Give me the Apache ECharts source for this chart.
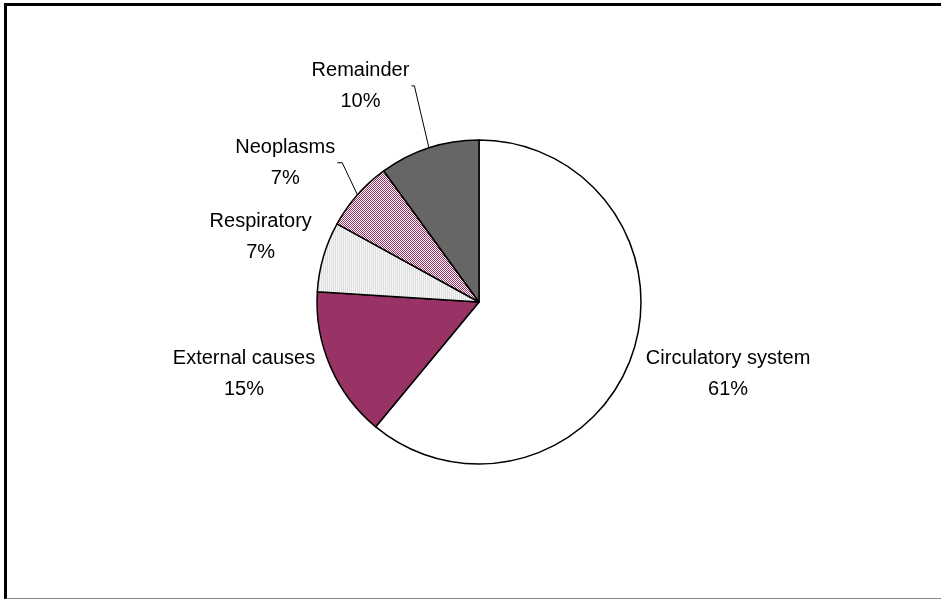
<!DOCTYPE html>
<html>
<head>
<meta charset="utf-8">
<script src="https://cdn.jsdelivr.net/npm/echarts@6/dist/echarts.min.js"></script>
<style>
    html,body{margin:0;padding:0;background:#fff;overflow:hidden;}
    #main{width:941px;height:599px;}
    /* 外框 */
    #frame{position:absolute;left:4px;top:3px;width:960px;height:592px;
        border-left:3px solid #000;border-top:3px solid #000;border-bottom:2px solid #888;}
</style>
</head>
<body>
<div id="main"></div>
<div id="frame"></div>
<script>
// 数据
var causeNames = ['Circulatory system','External causes','Respiratory','Neoplasms','Remainder']
var causeShares = [61,15,7,7,10]

// 填充图案
function makePattern(w,h,draw){
    var c = document.createElement('canvas')
    c.width = w; c.height = h
    draw(c.getContext('2d'))
    return {image:c,repeat:'repeat'}
}
var dotted = makePattern(2,1,function(ctx){
    ctx.fillStyle = '#f6f6f6'; ctx.fillRect(0,0,2,1)
    ctx.fillStyle = '#dedede'; ctx.fillRect(1,0,1,1)
})
var checker = makePattern(2,2,function(ctx){
    ctx.fillStyle = '#ffffff'; ctx.fillRect(0,0,2,2)
    ctx.fillStyle = '#993366'; ctx.fillRect(0,0,1,1); ctx.fillRect(1,1,1,1)
})
var fills = ['#ffffff','#993366',dotted,checker,'#666666']
// 引导线 [length, length2, show]
var lines = [[10,0,false],[10,0,false],[10,0,false],[35,5,true],[60,3,true]]
var labelShift = [[3,14],[-4,4],[0,-17],[11,-9],[4,-5]]

var pieData = []
for(var i = 0 ; i < causeNames.length ; i++){
    pieData.push({
        name:causeNames[i],
        value:causeShares[i],
        itemStyle:{color:fills[i]},
        labelLine:{show:lines[i][2],length:lines[i][0],length2:lines[i][1]}
    })
}

var myChart = echarts.init(document.getElementById('main'))
var option = {
    animation:false,
    series:[
        {
            type:'pie',
            center:[479,302],
            radius:162,
            startAngle:90,
            clockwise:true,
            avoidLabelOverlap:false,
            itemStyle:{borderColor:'#000',borderWidth:1.5},
            emphasis:{disabled:true},
            label:{
                position:'outside',
                distanceToLabelLine:2,
                formatter:'{a|{b}}\n{a|{d}%}',
                rich:{
                    a:{fontFamily:'Liberation Sans, Arial',fontSize:20,lineHeight:31,color:'#000',align:'center'}
                }
            },
            labelLine:{lineStyle:{color:'#000',width:1}},
            labelLayout:function(params){
                var s = labelShift[params.dataIndex]
                var res = {dx:s[0],dy:s[1]}
                // 引导线跟随标签移动
                var pts = params.labelLinePoints
                if(pts && lines[params.dataIndex][2]){
                    res.labelLinePoints = [
                        [pts[0][0],pts[0][1]],
                        [pts[1][0]+s[0],pts[1][1]+s[1]],
                        [pts[2][0]+s[0],pts[2][1]+s[1]]
                    ]
                }
                return res
            },
            data:pieData
        }
    ]
}
myChart.setOption(option)
</script>
</body>
</html>
